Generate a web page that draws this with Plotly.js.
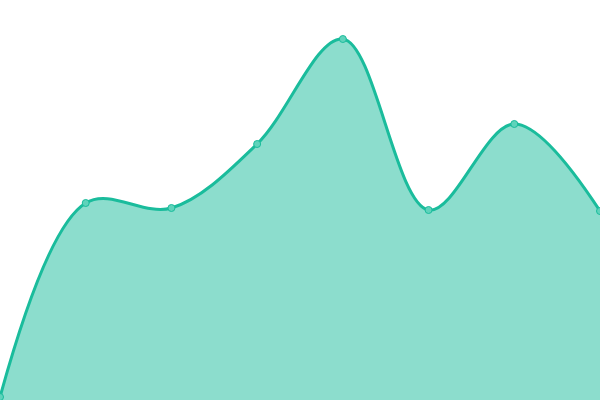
<!DOCTYPE html>
<html>
<head>
<meta charset="utf-8">
<script src="https://cdn.plot.ly/plotly-3.0.1.min.js"></script>
<style>html,body{margin:0;padding:0;background:#fff;}#chart{width:600px;height:400px;}</style>
</head>
<body>
<div id="chart"></div>
<script>
const xValues = [0, 1, 2, 3, 4, 5, 6, 7];
const yValues = [3, 197, 192, 256, 361, 190, 276, 189];

const trace = {
  x: xValues,
  y: yValues,
  type: 'scatter',
  mode: 'lines+markers',
  fill: 'tozeroy',
  fillcolor: 'rgba(26,188,156,0.5)',
  line: {color: '#1abc9c', width: 3, shape: 'spline', smoothing: 1},
  marker: {size: 7, color: '#5fd3bb', line: {color: '#1abc9c', width: 1}},
  hoverinfo: 'x+y'
};

Plotly.newPlot('chart', [trace], {
  width: 600, height: 400,
  margin: {l: 0, r: 0, t: 0, b: 0},
  paper_bgcolor: '#fff', plot_bgcolor: '#fff',
  showlegend: false,
  xaxis: {range: [0, 7], visible: false, fixedrange: true},
  yaxis: {range: [0, 400], visible: false, fixedrange: true}
}, {displayModeBar: false, staticPlot: true});
</script>
</body>
</html>
